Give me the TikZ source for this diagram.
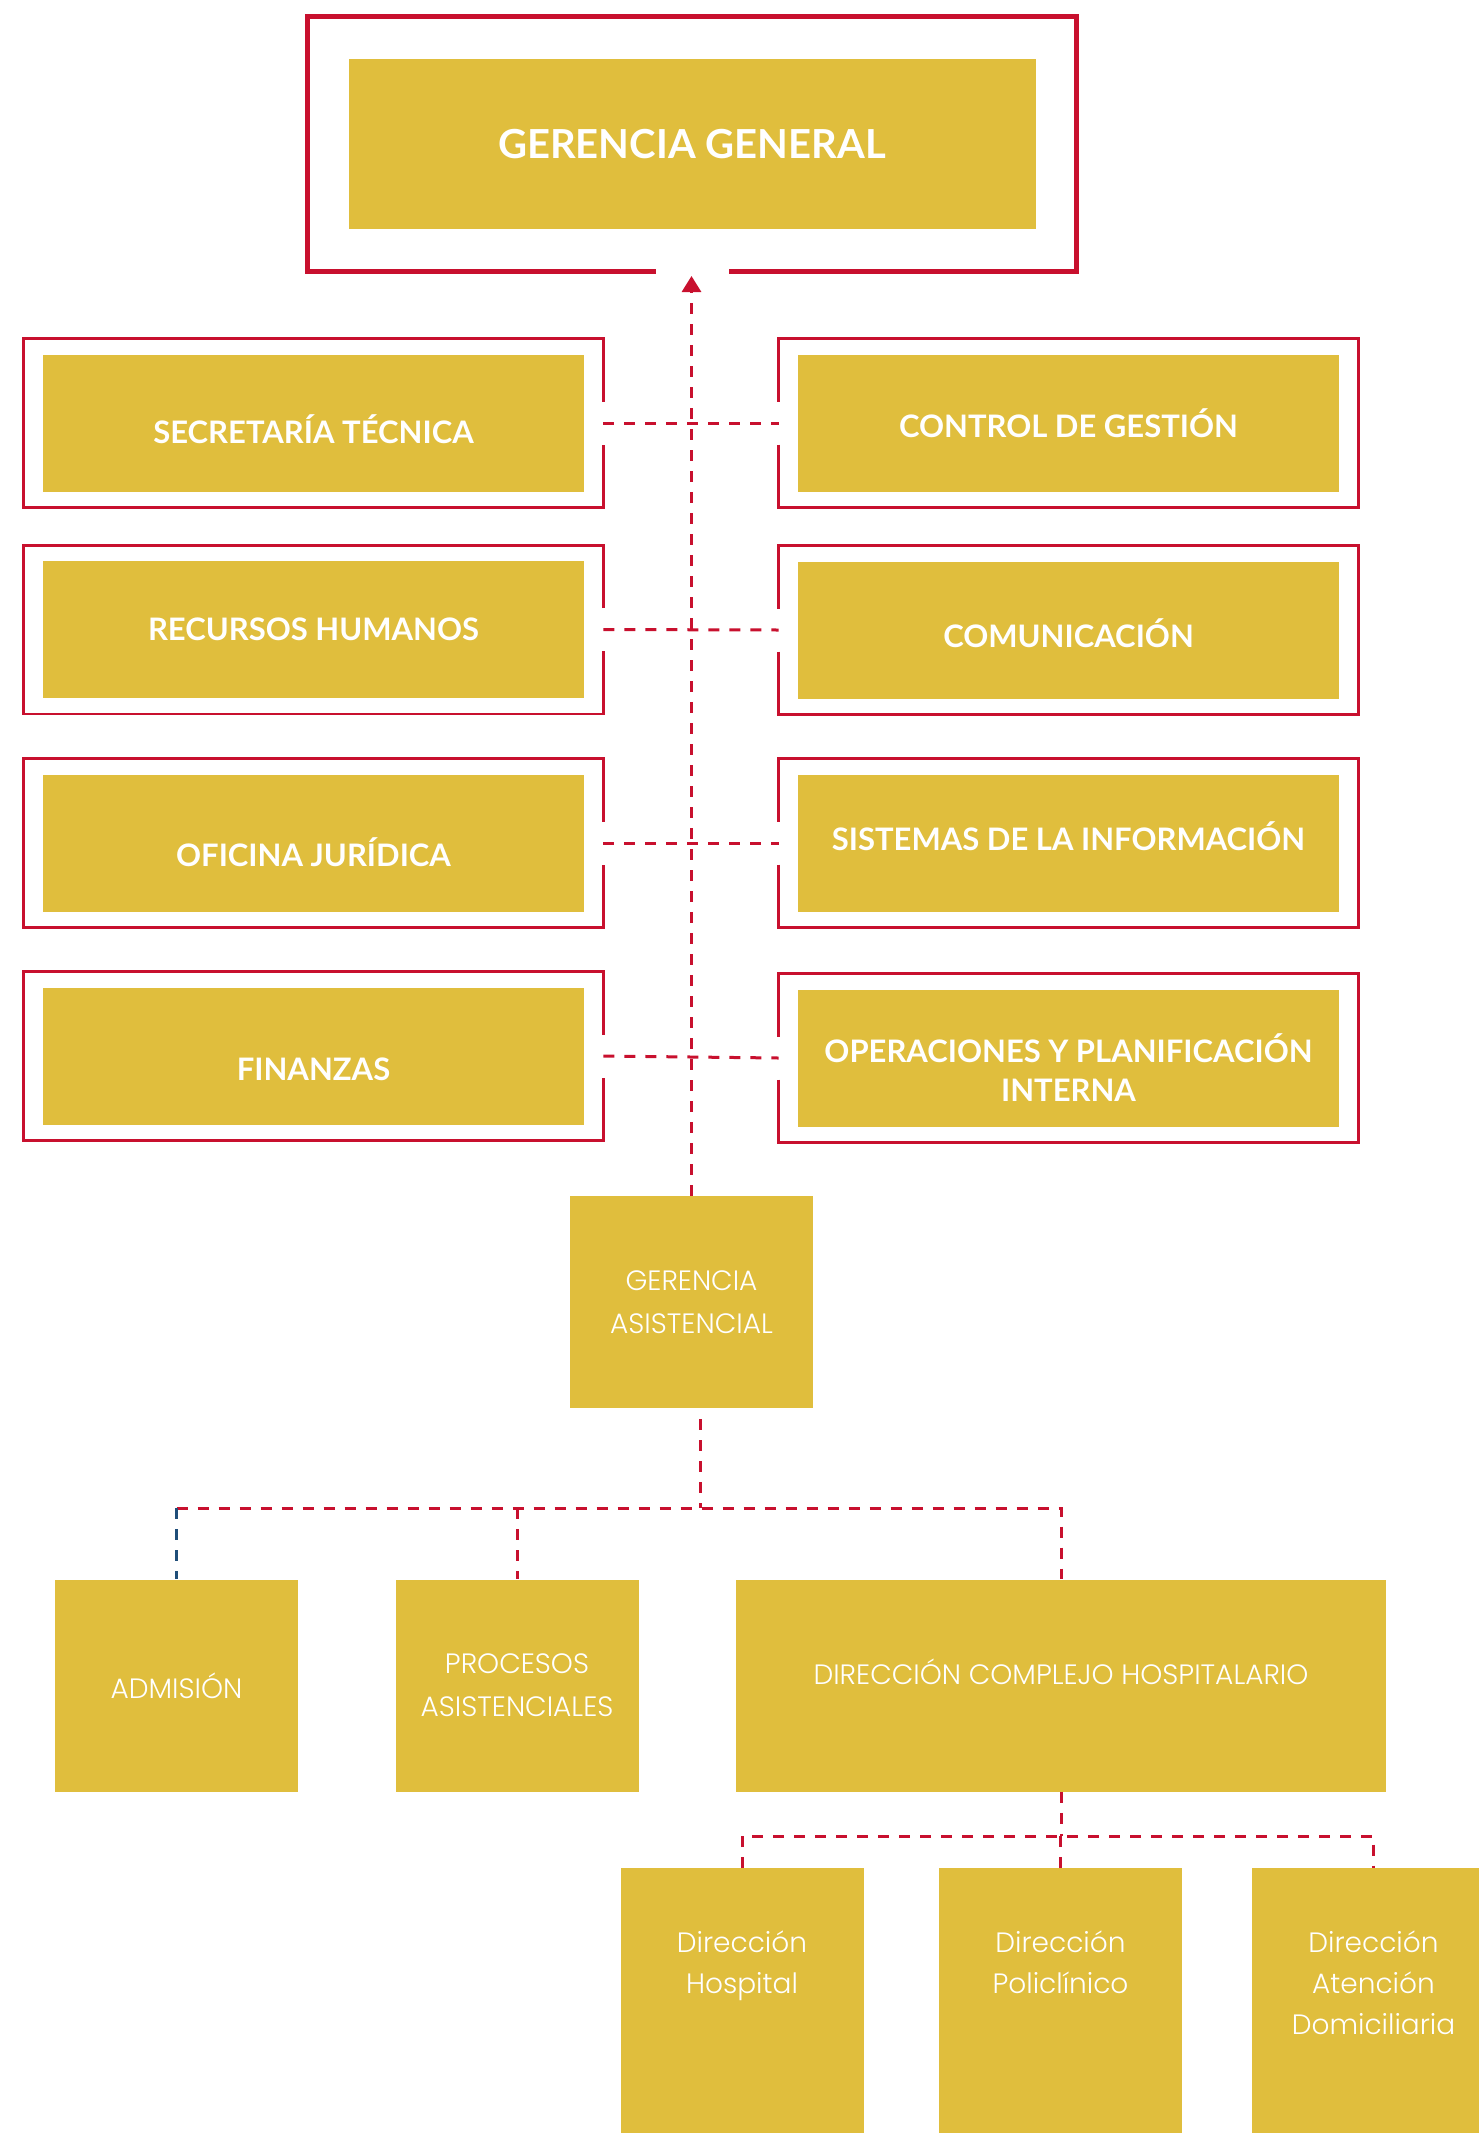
\documentclass[tikz,border=0pt]{standalone}
\usepackage{fontspec}
\newfontfamily\headfont{Lato}
\newfontfamily\lightfont{Poppins Light}
\usetikzlibrary{arrows.meta}

\begin{document}
\begin{tikzpicture}[x=1pt, y=-1pt, thick]

  % Define Colors
  \definecolor{gold}{RGB}{224,190,61}
  \definecolor{crimson}{RGB}{200,16,46}
  \definecolor{navy}{RGB}{31,78,121}

  % Node styles
  \tikzstyle{goldbox}=[rectangle, fill=gold, inner sep=0, align=center, text=white]
  \tikzstyle{topbox}=[goldbox, minimum width=541pt, minimum height=137pt, font=\headfont\bfseries\fontsize{31}{39}\selectfont]
  \tikzstyle{lowbox}=[goldbox, minimum width=243pt, minimum height=212pt, font=\lightfont\fontsize{28}{43}\selectfont]
  \tikzstyle{leafbox}=[lowbox, minimum height=300pt, anchor=north]
  \tikzstyle{leaftext}=[anchor=north, yshift=-62pt, inner sep=0, align=center, text=white, font=\lightfont\fontsize{28}{41}\selectfont]
  \tikzstyle{redframe}=[rectangle, minimum width=579pt, minimum height=168pt, inner sep=0]

  \tikzstyle{frame_path}=[crimson, line width=2.8pt]
  \tikzstyle{link}=[crimson, line width=3pt, dash pattern=on 11pt off 10pt]

  \useasboundingbox (0,0) rectangle (1478,2133);

  % Nodes
  \node[redframe, minimum width=768pt, minimum height=255pt] (fgg) at (692,144) {};
  \node[goldbox, minimum width=687pt, minimum height=170pt, font=\headfont\bfseries\fontsize{40}{48}\selectfont] (gg) at (fgg) {GERENCIA GENERAL};

  \node[redframe] (fsec) at (313.5,423) {};
  \node[topbox, text height=40pt, text depth=0pt] (sec) at (fsec) {SECRETARÍA TÉCNICA};
  \node[redframe] (frh) at (313.5,629.5) {};
  \node[topbox] (rh) at (frh) {RECURSOS HUMANOS};
  \node[redframe] (foj) at (313.5,843) {};
  \node[topbox, text height=46pt, text depth=0pt] (oj) at (foj) {OFICINA JURÍDICA};
  \node[redframe] (ffin) at (313.5,1056) {};
  \node[topbox, text height=48pt, text depth=0pt] (fin) at (ffin) {FINANZAS};

  \node[redframe] (fcg) at (1068.5,423) {};
  \node[topbox] (cg) at (fcg) {CONTROL DE GESTIÓN};
  \node[redframe] (fcom) at (1068.5,630) {};
  \node[topbox, text height=34pt, text depth=0pt] (com) at (fcom) {COMUNICACIÓN};
  \node[redframe] (fsis) at (1068.5,843) {};
  \node[topbox, text height=14pt, text depth=0pt] (sis) at (fsis) {SISTEMAS DE LA INFORMACIÓN};
  \node[redframe] (fop) at (1068.5,1058) {};
  \node[topbox, text height=86pt, text depth=0pt] (op) at (fop) {OPERACIONES Y PLANIFICACIÓN\\INTERNA};

  \node[lowbox] (ga) at (691.5,1302) {GERENCIA\\ASISTENCIAL};

  \node[lowbox] (adm) at (176.5,1685.5) {ADMISIÓN};
  \node[lowbox] (proc) at (517,1685.5) {PROCESOS\\ASISTENCIALES};
  \node[lowbox, minimum width=650pt, text height=20pt, text depth=23pt] (dch) at (1061,1685.5) {DIRECCIÓN COMPLEJO HOSPITALARIO};

  \node[leafbox, label={[leaftext]north:Dirección\\Hospital}] (dh) at (742,1868) {};
  \node[leafbox, label={[leaftext]north:Dirección\\Policlínico}] (dp) at (1060.5,1868) {};
  \node[leafbox, label={[leaftext]north:Dirección\\Atención\\Domiciliaria}] (dad) at (1373.5,1868) {};

  % Frames
  \draw[frame_path, line width=5pt] ([xshift=-36.5pt]fgg.south) -| (fgg.north west) -| (fgg.south east) -- ([xshift=36.5pt]fgg.south);
  \foreach \f in {fsec, frh, foj, ffin}
    \draw[frame_path] ([yshift=21.5pt]\f.east) |- (\f.north west) |- (\f.south east) -- ([yshift=-21.5pt]\f.east);
  \foreach \f in {fcg, fcom, fsis, fop}
    \draw[frame_path] ([yshift=-21.5pt]\f.west) |- (\f.south east) |- (\f.north west) -- ([yshift=21.5pt]\f.west);

  % Staff links
  \coordinate (tip) at (691.5,276);
  \draw[link, -{Triangle[length=16pt, width=19pt]}] (ga.north) -- (tip);
  \draw[link] (fsec.east) -- (fcg.west);
  \draw[link] (frh.east) -- (fcom.west);
  \draw[link] (foj.east) -- (fsis.west);
  \draw[link] (ffin.east) -- (fop.west);

  % Care links
  \coordinate (bus) at (700,1508);
  \draw[link] ([xshift=8.5pt, yshift=-11pt]ga.south) -- (bus);
  \draw[link] (adm.north |- bus) -| (dch.north);
  \draw[link] (proc.north |- bus) -- (proc.north);
  \draw[link, navy] (adm.north |- bus) -- (adm.north);

  % Hospital links
  \coordinate (bus2) at (1061,1836);
  \draw[link] (dch.south) -- (bus2);
  \draw[link] (dh.north) |- (bus2) -| (dad.north);
  \draw[link] (dp.north |- bus2) -- (dp.north);

\end{tikzpicture}
\end{document}
